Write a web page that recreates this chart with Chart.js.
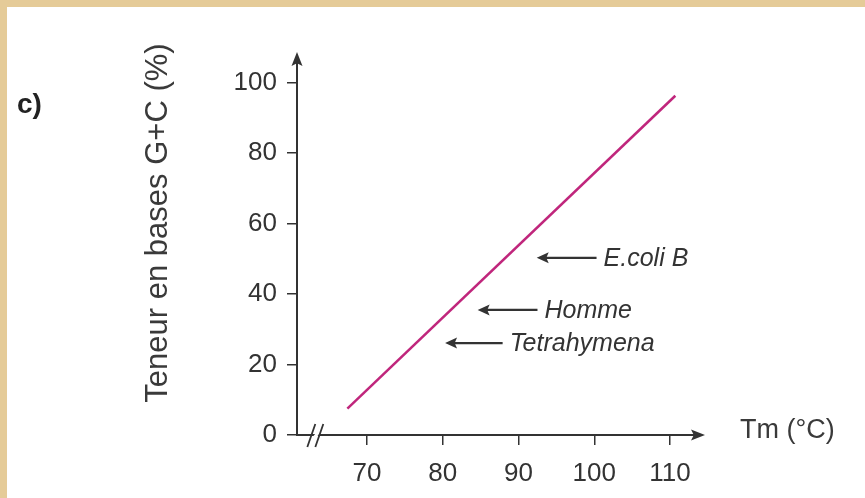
<!DOCTYPE html>
<html>
<head>
<meta charset="utf-8">
<script src="https://cdn.jsdelivr.net/npm/chart.js@4.4.1/dist/chart.umd.min.js"></script>
<style>
html, body { margin:0; padding:0; background:#e5cb98; }
#chart { display:block; }
</style>
</head>
<body>
<canvas id="chart" width="865" height="498"></canvas>
<script>
// Tm (°C) vs G+C content (%)
var lineTm   = [67.4, 110.7];
var lineGC   = [7.5, 96.3];
var xTicks   = [70, 80, 90, 100, 110];
var yTicks   = [0, 20, 40, 60, 80, 100];
var species  = ['E.coli B', 'Homme', 'Tetrahymena'];
var arrowTip = [92.4, 84.6, 80.3];   // Tm where each arrow points
var arrowEnd = [100.3, 92.5, 87.9];  // Tm of arrow tail
var arrowGC  = [50.3, 35.5, 26.1];

var sans   = "'Liberation Sans', Arial, sans-serif";
var ink    = '#333333';

function arrowHead( ctx, x, y, dx, dy, len, half ){
	// filled triangle, tip at (x,y), pointing along (dx,dy)
	var px = -dy, py = dx;
	ctx.beginPath();
	ctx.moveTo( x, y );
	ctx.lineTo( x - dx*len + px*half, y - dy*len + py*half );
	ctx.lineTo( x - dx*len*0.8, y - dy*len*0.8 );
	ctx.lineTo( x - dx*len - px*half, y - dy*len - py*half );
	ctx.closePath();
	ctx.fill();
}

var decor = {
	id: 'decor',
	beforeDraw: function( chart ){
		var ctx = chart.ctx;
		ctx.save();
		ctx.fillStyle = '#e5cb98';
		ctx.fillRect( 0, 0, chart.width, chart.height );
		ctx.fillStyle = '#ffffff';
		ctx.fillRect( 7, 7, chart.width - 7, chart.height - 7 );
		ctx.restore();
	},
	afterDraw: function( chart ){
		var ctx = chart.ctx,
			a   = chart.chartArea,
			xs  = chart.scales.x,
			ys  = chart.scales.y,
			x0  = a.left,
			y0  = a.bottom;

		ctx.save();
		ctx.strokeStyle = ink;
		ctx.fillStyle   = ink;
		ctx.lineWidth   = 2;

		// y axis with arrow
		ctx.beginPath();
		ctx.moveTo( x0, y0 );
		ctx.lineTo( x0, a.top + 8 );
		ctx.stroke();
		arrowHead( ctx, x0, a.top + 1, 0, -1, 14, 5.5 );

		// x axis with arrow
		ctx.beginPath();
		ctx.moveTo( x0 - 1, y0 );
		ctx.lineTo( a.right - 8, y0 );
		ctx.stroke();
		arrowHead( ctx, a.right - 1, y0, 1, 0, 14, 5.5 );

		// axis break //
		var bx = xs.getPixelForValue( 63.3 );
		ctx.fillStyle = '#ffffff';
		ctx.beginPath();
		ctx.moveTo( bx - 6, y0 + 5 ); ctx.lineTo( bx + 2, y0 - 5 );
		ctx.lineTo( bx + 6, y0 - 5 ); ctx.lineTo( bx - 2, y0 + 5 );
		ctx.closePath();
		ctx.fill();
		ctx.lineWidth = 1.8;
		ctx.beginPath();
		ctx.moveTo( bx - 9, y0 + 12 ); ctx.lineTo( bx - 1, y0 - 11 );
		ctx.moveTo( bx - 1, y0 + 12 ); ctx.lineTo( bx + 7, y0 - 11 );
		ctx.stroke();

		// species arrows
		ctx.fillStyle   = ink;
		ctx.lineWidth   = 2.2;
		ctx.font        = 'italic 25px ' + sans;
		ctx.textAlign   = 'left';
		ctx.textBaseline = 'middle';
		for( var i = 0; i < species.length; i++ ){
			var tx = xs.getPixelForValue( arrowTip[ i ] ),
				ex = xs.getPixelForValue( arrowEnd[ i ] ),
				yy = ys.getPixelForValue( arrowGC[ i ] );
			ctx.beginPath();
			ctx.moveTo( tx + 6, yy );
			ctx.lineTo( ex, yy );
			ctx.stroke();
			arrowHead( ctx, tx, yy, -1, 0, 12, 5.5 );
			ctx.fillText( species[ i ], ex + 7, yy + 1 );
		}

		// y title
		ctx.save();
		ctx.translate( 167, 223 );
		ctx.rotate( -Math.PI / 2 );
		ctx.font = '31px ' + sans;
		ctx.textAlign = 'center';
		ctx.textBaseline = 'alphabetic';
		ctx.fillStyle = '#3a3a3a';
		ctx.fillText( 'Teneur en bases G+C (%)', 0, 0 );
		ctx.restore();

		// x title
		ctx.font = '27px ' + sans;
		ctx.textAlign = 'left';
		ctx.textBaseline = 'alphabetic';
		ctx.fillStyle = '#3a3a3a';
		ctx.fillText( 'Tm (°C)', 740, 438 );

		// panel letter
		ctx.font = 'bold 28px ' + sans;
		ctx.fillStyle = '#222222';
		ctx.fillText( 'c)', 17, 113 );

		ctx.restore();
	}
};

new Chart( document.getElementById( 'chart' ), {
	type: 'line',
	data: {
		datasets: [ {
			data: lineTm.map( function( t, i ){ return { x: t, y: lineGC[ i ] }; } ),
			borderColor: '#c0267c',
			borderWidth: 2.5,
			pointRadius: 0,
			fill: false,
			tension: 0
		} ]
	},
	options: {
		responsive: false,
		animation: false,
		layout: { padding: { left: 0, top: 51, right: 159, bottom: 0 } },
		plugins: { legend: { display: false }, tooltip: { enabled: false } },
		scales: {
			x: {
				type: 'linear', min: 60.75, max: 114.75,
				afterBuildTicks: function( s ){ s.ticks = xTicks.map( function( v ){ return { value: v }; } ); },
				afterFit: function( s ){ s.height = 63; },
				border: { display: false },
				grid: { drawOnChartArea: false, drawTicks: true, tickLength: 10, color: ink, lineWidth: 1.5 },
				ticks: { padding: 13, color: ink, maxRotation: 0, autoSkip: false, font: { family: sans, size: 26 } }
			},
			y: {
				type: 'linear', min: 0, max: 109,
				afterBuildTicks: function( s ){ s.ticks = yTicks.map( function( v ){ return { value: v }; } ); },
				afterFit: function( s ){ s.width = 297; },
				border: { display: false },
				grid: { drawOnChartArea: false, drawTicks: true, tickLength: 10, color: ink, lineWidth: 1.5 },
				ticks: { padding: 10, color: ink, autoSkip: false, font: { family: sans, size: 26 } }
			}
		}
	},
	plugins: [ decor ]
} );
</script>
</body>
</html>
